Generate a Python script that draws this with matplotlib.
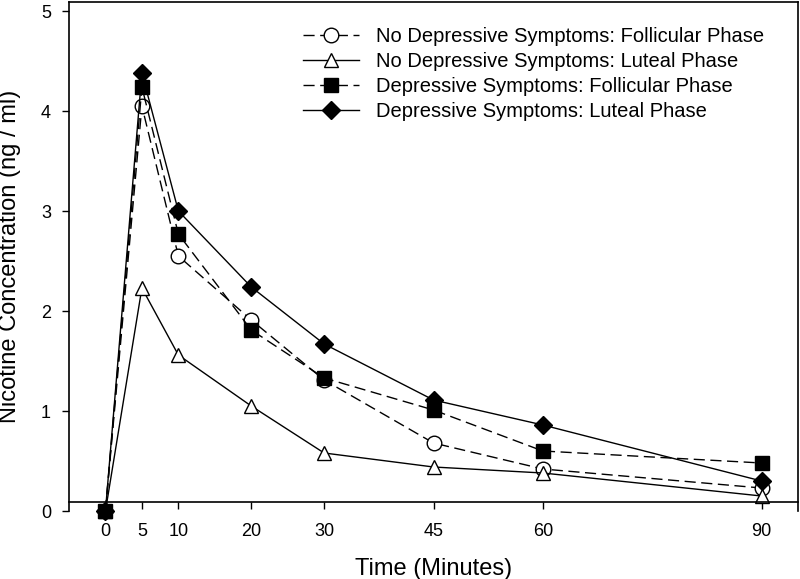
import numpy as np
import matplotlib.pyplot as plt

plt.rcParams['font.family'] = ['Liberation Sans', 'DejaVu Sans']

# Zeit (Minuten) und Konzentrationen (ng/ml)
time_min = [0, 5, 10, 20, 30, 45, 60, 90]
nodep_foll = [0, 4.05, 2.55, 1.91, 1.31, 0.68, 0.42, 0.23]
nodep_lut = [0, 2.23, 1.56, 1.05, 0.58, 0.44, 0.38, 0.15]
dep_foll = [0, 4.24, 2.77, 1.81, 1.33, 1.01, 0.60, 0.48]
dep_lut = [0, 4.38, 3.00, 2.24, 1.67, 1.11, 0.86, 0.30]

labels = ["No Depressive Symptoms: Follicular Phase",
          "No Depressive Symptoms: Luteal Phase",
          "Depressive Symptoms: Follicular Phase",
          "Depressive Symptoms: Luteal Phase"]

xticks = [0, 5, 10, 20, 30, 45, 60, 90]
yticks = [0, 1, 2, 3, 4, 5]

fig = plt.figure(figsize=(8, 5.79), dpi=100)
ax = fig.add_axes([69 / 800, 68 / 579, 729 / 800, 509.5 / 579])

dash = (0, (8, 4))
common = dict(color='black', lw=1, mec='black', mew=1, clip_on=False)
ax.plot(time_min, nodep_foll, ls=dash, marker='o', ms=10.5, mfc='white',
        label=labels[0], **common)
ax.plot(time_min, nodep_lut, ls='-', marker='^', ms=10, mfc='white',
        label=labels[1], **common)
ax.plot(time_min, dep_foll, ls=dash, marker='s', ms=9.5, mfc='black',
        label=labels[2], **common)
ax.plot(time_min, dep_lut, ls='-', marker='D', ms=9, mfc='black',
        label=labels[3], **common)

ax.set_xlim(-5, 95)
ax.set_ylim(0, 5.095)
ax.set_xticks(xticks)
ax.set_yticks(yticks)

ax.spines['bottom'].set_position(('data', 0.09))
for s in ax.spines.values():
    s.set_linewidth(1.2)

ax.tick_params(axis='x', direction='out', length=5, width=1, pad=10, labelsize=13)
ax.tick_params(axis='y', direction='out', length=5, width=1, pad=8, labelsize=13)

ax.set_xlabel("Time (Minutes)", fontsize=17, labelpad=13)
ax.set_ylabel("Nicotine Concentration (ng / ml)", fontsize=17, labelpad=14)

ax.legend(loc='upper left', bbox_to_anchor=(0.321, 0.95), frameon=False,
          fontsize=14.5, handlelength=2.8, handletextpad=0.8, labelspacing=0.3,
          borderpad=0, borderaxespad=0)

plt.savefig("out.png", dpi=100)
